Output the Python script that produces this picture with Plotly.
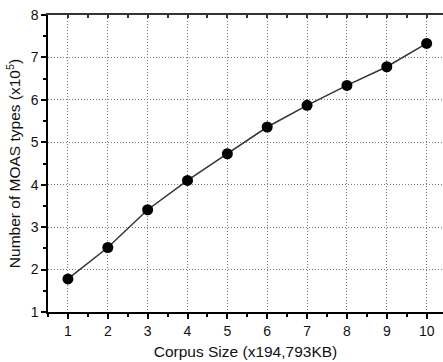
import plotly.graph_objects as go

corpus_size = [1, 2, 3, 4, 5, 6, 7, 8, 9, 10]
moas_types = [1.78, 2.52, 3.41, 4.10, 4.73, 5.36, 5.87, 6.34, 6.78, 7.33]

font = dict(family="Liberation Sans, Arial, sans-serif", size=14, color="#111")
title_font = dict(family="Liberation Sans, Arial, sans-serif", size=15.5, color="#111")

fig = go.Figure()
fig.add_trace(go.Scatter(
    x=corpus_size, y=moas_types, mode="lines+markers",
    line=dict(color="#333333", width=1.5),
    marker=dict(color="black", size=11),
    showlegend=False,
))
# invisible trace for the top axis
fig.add_trace(go.Scatter(x=[corpus_size[0]], y=[moas_types[0]], xaxis="x2", mode="markers",
                         marker=dict(opacity=0), showlegend=False, hoverinfo="skip"))

xr = [0.5, 10.41]
fig.update_layout(
    width=443, height=362,
    margin=dict(l=48, r=0, t=15, b=50),
    paper_bgcolor="white", plot_bgcolor="white",
    font=font,
    xaxis=dict(
        range=xr, tickmode="array", tickvals=corpus_size,
        showline=True, linecolor="black", linewidth=1.5,
        ticks="outside", ticklen=5, tickwidth=1.5, tickcolor="black",
        minor=dict(dtick=0.5, tick0=0.5, ticks="outside", ticklen=3, tickcolor="black", showgrid=False),
        showgrid=True, gridcolor="#777777", griddash="1px,2px", gridwidth=1,
        zeroline=False,
        title=dict(text="Corpus Size (x194,793KB)", font=title_font, standoff=9),
        tickfont=font,
    ),
    xaxis2=dict(
        range=xr, overlaying="x", side="top", showline=True, linecolor="#333", linewidth=1.5,
        ticks="inside", ticklen=3, tickwidth=1.5, tickcolor="#333", dtick=0.5, tick0=0.5,
        showticklabels=False, showgrid=False, zeroline=False,
    ),
    yaxis=dict(
        range=[1, 8], dtick=1,
        showline=True, linecolor="black", linewidth=1.5,
        ticks="outside", ticklen=5, tickwidth=1.5, tickcolor="black",
        minor=dict(dtick=0.5, ticks="outside", ticklen=3, tickcolor="black", showgrid=False),
        showgrid=True, gridcolor="#777777", griddash="1px,2px", gridwidth=1,
        zeroline=False,
        title=dict(text="Number of MOAS types (x10<sup>5</sup>)", font=title_font, standoff=6),
        tickfont=font,
    ),
)
fig.write_html("out.html")
